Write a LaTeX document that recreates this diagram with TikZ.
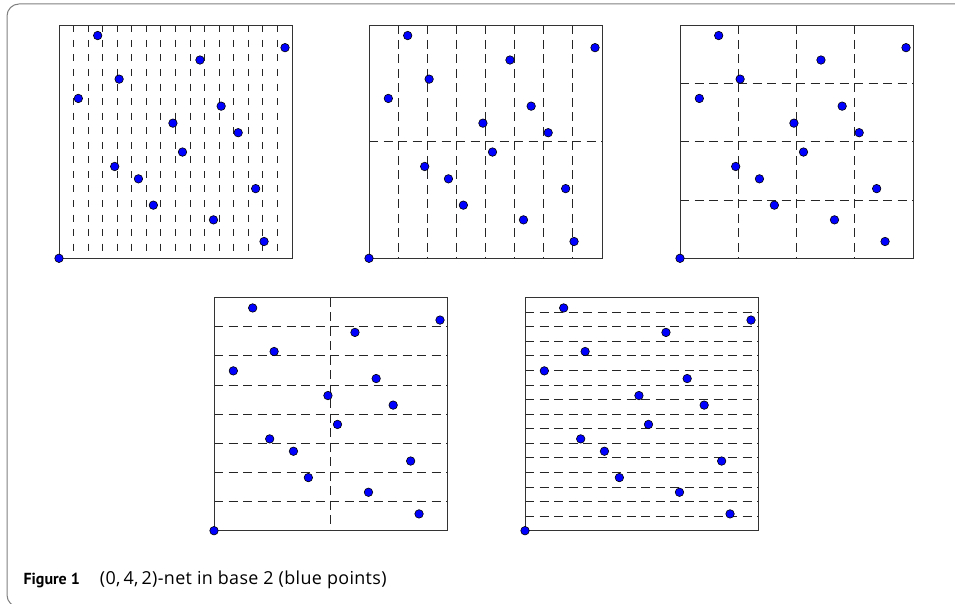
\documentclass[tikz,border=0pt]{standalone}
\usepackage{fontspec}
\setmainfont{PT Sans}
\newfontfamily\capfont[LetterSpace=2]{Open Sans}
\tikzset{
  frame/.style={draw=black!50, line width=1pt, rounded corners=12pt},
  box/.style={draw=black!80, line width=0.9pt},
  vdl/.style={draw=black!85, line width=0.9pt, dash pattern=on 7pt off 7.56pt},
  hdl/.style={draw=black!85, line width=0.9pt, dash pattern=on 9pt off 5.5pt},
  vdm/.style={draw=black!85, line width=0.9pt, dash pattern=on 9pt off 5.5pt},
  pt/.style={circle, draw=black, fill=blue, line width=0.6pt, inner sep=0pt, minimum size=8.5pt},
}
\newcommand\netpoints[1]{%
  \foreach \u/\v [count=\i] in {0.166/0.956,0.970/0.904,0.605/0.851,0.258/0.769,
      0.083/0.686,0.696/0.653,0.489/0.580,0.769/0.539,0.530/0.456,0.239/0.394,
      0.341/0.341,0.844/0.299,0.405/0.228,0.663/0.165,0.880/0.072,0/0}
    {\node[pt] (#1\i) at (\u*233,\v*233) {};}%
}
\begin{document}
\begin{tikzpicture}[x=1pt,y=1pt]
\useasboundingbox (0,0) rectangle (955,604);
\draw[frame] (975,600) -- (7,600) -- (7,-3) -- (975,-3);
% panel 1
\begin{scope}[shift={(59,345.7)}]
  \foreach \k in {1,...,15} \draw[vdl] (\k*233/16,233) -- (\k*233/16,0);
  \draw[box] (0,0) rectangle (233,233);
  \netpoints{a}
\end{scope}
% panel 2
\begin{scope}[shift={(369,345.7)}]
  \foreach \k in {1,...,7} \draw[vdm] (\k*233/8,233) -- (\k*233/8,0);
  \draw[hdl] (0,233/2) -- (233,233/2);
  \draw[box] (0,0) rectangle (233,233);
  \netpoints{b}
\end{scope}
% panel 3
\begin{scope}[shift={(680,345.7)}]
  \foreach \k in {1,2,3} {
    \draw[vdm] (\k*233/4,233) -- (\k*233/4,0);
    \draw[hdl] (0,\k*233/4) -- (233,\k*233/4);
  }
  \draw[box] (0,0) rectangle (233,233);
  \netpoints{c}
\end{scope}
% panel 4
\begin{scope}[shift={(214,73.3)}]
  \draw[vdm] (233/2,233) -- (233/2,0);
  \foreach \k in {1,...,7} \draw[hdl] (0,\k*233/8) -- (233,\k*233/8);
  \draw[box] (0,0) rectangle (233,233);
  \netpoints{d}
\end{scope}
% panel 5
\begin{scope}[shift={(525,73.3)}]
  \foreach \k in {1,...,15} \draw[hdl] (0,\k*233/16) -- (233,\k*233/16);
  \draw[box] (0,0) rectangle (233,233);
  \netpoints{e}
\end{scope}
\node[anchor=base west, inner sep=0pt] (cap) at (23.3,19)
  {\fontsize{16}{18}\selectfont\textbf{Figure 1}\hspace{20pt}\capfont\fontsize{17.9}{20}\selectfont(0,\,4,\,2)-net in base 2 (blue points)};
\end{tikzpicture}
\end{document}
